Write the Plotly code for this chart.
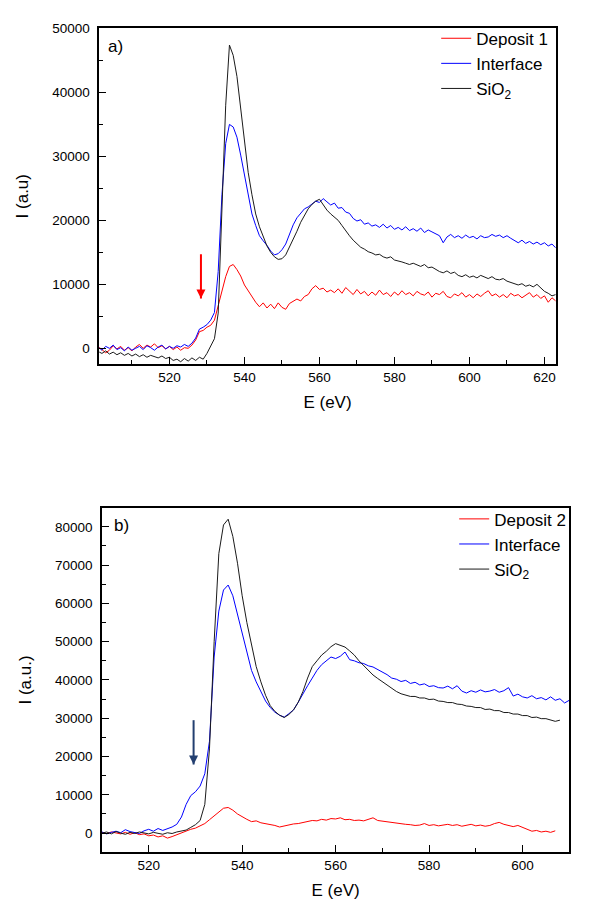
import plotly.graph_objects as go

# ---------------- panel a) data ----------------
e_top = list(range(501, 624))
dep1_top = [
    300, -200, -700, -300, 400, -100, 300, -300, 100, -400,
    200, 600, 0, 500, 200, 700, 100, 400, -100, 300,
    -200, 200, -300, 100, 0, 500, 1300, 2600, 2800, 3300,
    3600, 4400, 6600, 9100, 11200, 12800, 13100, 12300, 11300, 9900,
    9000, 8000, 7200, 6500, 7100, 6300, 6900, 6200, 7100, 6400,
    6100, 7000, 7300, 7700, 7400, 8100, 8400, 9300, 9800, 9200,
    9400, 8800, 9100, 8700, 9300, 8600, 9500, 9000, 8400, 9200,
    8500, 8900, 8200, 8800, 8300, 9100, 8400, 8700, 8100, 8800,
    8300, 9000, 8400, 8700, 8200, 8900, 8500, 8300, 8800, 8000,
    8600, 8400, 8900, 8100, 7900, 8500, 8200, 8700, 8000, 8400,
    7900, 8500, 8100, 8600, 9000, 8200, 8500, 8000, 8400, 7900,
    8600, 8200, 8400, 7900, 8300, 8700, 8000, 8400, 7800, 8200,
    7200, 7900, 7400,
]
interface_top = [
    200, -300, 300, 0, 500, -200, 100, -400, 200, -300,
    0, 300, -200, 400, 100, -300, 200, 500, -100, 300,
    0, 400, 200, 600, 300, 800, 1600, 3000, 3300, 3700,
    4400, 5600, 12000, 24000, 32000, 35000, 34600, 33000, 30200, 27000,
    24000, 21000, 19200, 17600, 16800, 16100, 15200, 14600, 14800, 15400,
    16300, 17800, 19300, 20400, 21100, 21800, 22100, 22600, 23000, 22800,
    23400, 22900, 22400, 22700, 21900, 22000, 21300, 21100, 20300, 19900,
    20100, 19400, 19600, 19100, 19300, 18900, 19400, 18800, 19200, 18600,
    18900, 18500, 19000, 18400, 18700, 18300, 18800, 18100, 18500, 18200,
    17900, 17600, 16500, 17400, 17800, 17300, 17600, 17200, 17700, 17300,
    17500, 17100, 17600, 17300, 17400, 17800, 17500, 17700, 17300, 17600,
    17200, 16800, 16500, 16900, 16400, 16700, 16300, 16600, 16200, 16500,
    16000, 16300, 15700,
]
sio2_top = [
    -500, -800, -400, -900, -600, -1000, -700, -1100, -800, -1200,
    -900, -1300, -1000, -1400, -1100, -1300, -1500, -1200, -1600, -1400,
    -1900, -1700, -2100, -1600, -2000, -1500, -1900, -1400, -1700, -800,
    300, 1500, 5500, 22000, 38000, 47400, 45800, 42500, 37500, 32500,
    27500, 24000, 21000, 19000, 17400, 16000, 15000, 14300, 13900, 14000,
    14600, 15800, 17000, 18300, 19700, 20800, 21800, 22500, 23000, 23300,
    22400, 21600, 21000, 20500, 20000, 19200, 18300, 17600, 16900, 16300,
    15800, 15500, 15100, 14900, 14600, 14700, 14300, 14100, 14300, 13800,
    13700, 13500, 13300, 13100, 13300, 13000, 12800, 13100, 12600, 12700,
    12300, 12000, 11800, 12100, 11700, 11900, 11400, 11200, 11500, 11100,
    11300, 11000, 11400, 11100, 10900, 11200, 10800, 10700, 10900, 10500,
    10300, 10100, 9900, 10100, 9700, 9900, 9600, 10000, 9400, 8900,
    8600, 8200, 8400,
]

# ---------------- panel b) data ----------------
e_bot_interface = list(range(510, 611))
e_bot_sio2 = list(range(510, 609))
e_bot_dep2 = list(range(510, 608))
interface_bot = [
    300, -200, 200, 500, 100, 900, 400, 200, -100, 600,
    1000, 500, 1200, 700, 1100, 1600, 2300, 4200, 7500, 9800,
    10800, 12300, 15500, 24000, 46000, 58000, 63500, 64800, 62000, 57000,
    52000, 47000, 42500, 39500, 37000, 34500, 32800, 31600, 30800, 30300,
    31200, 32200, 34200, 36500, 38500, 40500, 42500, 44000, 45000, 46000,
    45600, 46200, 47300, 45300, 45000, 44500, 44300, 43700, 43400, 42800,
    42200, 41400, 40500, 40200, 39600, 39900, 39100, 39400, 38700, 39000,
    38300, 38500, 38000, 37900, 38400, 37700, 38500, 37100, 36600, 37200,
    36800, 37400, 36900, 37100, 37500, 36800, 37200, 38000, 35800, 36300,
    35600, 35300, 35900, 35100, 35400, 34800, 35600, 34700, 35100, 34000,
    34700,
]
sio2_bot = [
    0, 300, -200, 400, 0, -300, 200, -100, 300, 100,
    -200, 200, 0, -300, 100, -100, 300, 500, 800, 1500,
    2200, 3300, 7500, 22000, 50000, 73000, 80500, 82000, 77500, 70500,
    62000, 55000, 48800, 43500, 39500, 36000, 33300, 31800, 30800, 30200,
    31000, 32200, 34200, 37000, 40500, 43500, 45000, 46500, 47500, 48700,
    49500, 49000, 48600, 47600, 46500, 45000, 43800, 42600, 41300, 40400,
    39500, 38600, 37800, 37000, 36400, 36100, 35700, 35700, 35300, 35300,
    34900, 35000, 34500, 34400, 34100, 34100, 33700, 33600, 33200, 33100,
    32800, 32800, 32300, 32400, 32000, 32000, 31500, 31500, 31100, 31100,
    30700, 30700, 30200, 30300, 29900, 29900, 29500, 29200, 29500,
]
dep2_bot = [
    200, -100, 300, 0, -200, 200, -300, 100, -400, -200,
    -700, -500, -1000, -700, -1300, -900, -400, 200, 500, 1000,
    1300, 1800, 2500, 3500, 4500, 5500, 6500, 6700, 6000, 5000,
    4200, 3600, 3000, 3200, 2700, 2500, 2200, 2000, 1600, 1900,
    2200, 2400, 2500, 2800, 3000, 3300, 3200, 3600, 3400, 3800,
    3700, 4000, 3500, 3600, 3300, 3400, 3200, 3500, 4000, 3300,
    3100, 2900, 2700, 2600, 2400, 2300, 2200, 2000, 2100, 2500,
    2000, 2200, 1900, 2100, 2300, 2000, 2200, 1800, 2000, 2300,
    1900, 2100, 1800, 2000, 2500, 2800, 2300, 2000, 1700, 2000,
    1500, 800, 500, 700, 300, 500, 200, 600,
]

# arrow markers: energy, [tail intensity, tip intensity]
arrow_a_x = 528.4
arrow_a_y = [14700, 7800]
arrow_b_x = 529.6
arrow_b_y = [29500, 17900]

FONT = "Liberation Sans, Arial, sans-serif"
RED, BLUE, BLACK = "#ff0000", "#0000ff", "#1a1a1a"
NAVY = "#233f70"

fig = go.Figure()
fig.add_trace(go.Scatter(x=e_top, y=dep1_top, mode="lines", name="Deposit 1",
                         line=dict(color=RED, width=1), xaxis="x", yaxis="y", legend="legend"))
fig.add_trace(go.Scatter(x=e_top, y=interface_top, mode="lines", name="Interface",
                         line=dict(color=BLUE, width=1), xaxis="x", yaxis="y", legend="legend"))
fig.add_trace(go.Scatter(x=e_top, y=sio2_top, mode="lines", name="SiO<sub>2</sub>",
                         line=dict(color=BLACK, width=1), xaxis="x", yaxis="y", legend="legend"))

fig.add_trace(go.Scatter(x=e_bot_dep2, y=dep2_bot, mode="lines", name="Deposit 2",
                         line=dict(color=RED, width=1), xaxis="x2", yaxis="y2", legend="legend2"))
fig.add_trace(go.Scatter(x=e_bot_interface, y=interface_bot, mode="lines", name="Interface",
                         line=dict(color=BLUE, width=1), xaxis="x2", yaxis="y2", legend="legend2"))
fig.add_trace(go.Scatter(x=e_bot_sio2, y=sio2_bot, mode="lines", name="SiO<sub>2</sub>",
                         line=dict(color=BLACK, width=1), xaxis="x2", yaxis="y2", legend="legend2"))

# arrows (shaft + arrow-down head whose tip sits at the data point)
for ax_x, ax_y, col, xa, ya, lg in [(arrow_a_x, arrow_a_y, RED, "x", "y", "legend"),
                                    (arrow_b_x, arrow_b_y, NAVY, "x2", "y2", "legend2")]:
    fig.add_trace(go.Scatter(x=[ax_x, ax_x], y=ax_y, mode="lines",
                             line=dict(color=col, width=2), showlegend=False,
                             hoverinfo="skip", xaxis=xa, yaxis=ya, legend=lg))
    fig.add_trace(go.Scatter(x=[ax_x], y=[ax_y[1]], mode="markers",
                             marker=dict(symbol="arrow-down", size=9, color=col,
                                         line=dict(width=0)),
                             showlegend=False, hoverinfo="skip", xaxis=xa, yaxis=ya, legend=lg))


def xax(domain, anchor, rng):
    return dict(domain=domain, anchor=anchor, range=rng, dtick=20, tick0=0,
                automargin=False,
                ticks="inside", ticklen=7, tickwidth=1.3, tickcolor="black",
                minor=dict(dtick=10, ticks="inside", ticklen=4, tickwidth=1.3, tickcolor="black"),
                showline=True, linewidth=1.6, linecolor="black", mirror=True,
                showgrid=False, zeroline=False,
                tickfont=dict(family=FONT, size=13.5, color="black"),
                title=dict(text="E (eV)", font=dict(family=FONT, size=17, color="black"), standoff=12))


def yax(domain, anchor, rng, title):
    return dict(domain=domain, anchor=anchor, range=rng, dtick=10000, tick0=0,
                tickformat="d", automargin=False, ticklabelstandoff=5,
                ticks="inside", ticklen=7, tickwidth=1.3, tickcolor="black",
                minor=dict(dtick=5000, ticks="inside", ticklen=4, tickwidth=1.3, tickcolor="black"),
                showline=True, linewidth=1.6, linecolor="black", mirror=True,
                showgrid=False, zeroline=False,
                tickfont=dict(family=FONT, size=13.5, color="black"),
                title=dict(text=title, font=dict(family=FONT, size=17, color="black"), standoff=19))


legend_style = dict(bgcolor="rgba(0,0,0,0)", borderwidth=0, xanchor="left", yanchor="top",
                    font=dict(family=FONT, size=17, color="black"), tracegroupgap=0,
                    itemwidth=30)

fig.update_layout(
    width=600, height=912,
    margin=dict(l=0, r=0, t=0, b=0, autoexpand=False),
    paper_bgcolor="white", plot_bgcolor="white",
    font=dict(family=FONT, color="black"),
    xaxis=xax([0.1655, 0.9262], "y", [501.3, 623]),
    yaxis=yax([0.6009, 0.9688], "x", [-2450, 50000], "I (a.u)"),
    xaxis2=xax([0.17, 0.9488], "y2", [510, 610]),
    yaxis2=yax([0.0655, 0.4433], "x2", [-5000, 85000], "I (a.u.)"),
    legend=dict(x=0.727, y=0.9773, **legend_style),
    legend2=dict(x=0.757, y=0.4503, **legend_style),
    showlegend=True,
)

annos = [
    dict(text="a)", xref="paper", yref="paper", x=106 / 600, y=1 - 46.7 / 912,
         xanchor="left", yanchor="middle", showarrow=False,
         font=dict(family=FONT, size=17, color="black")),
    dict(text="b)", xref="paper", yref="paper", x=111.5 / 600, y=1 - 525 / 912,
         xanchor="left", yanchor="middle", showarrow=False,
         font=dict(family=FONT, size=17, color="black")),
]
fig.update_layout(annotations=annos)

fig.write_html("out.html", config={"displayModeBar": False},
               post_script="document.body.style.margin='0';document.body.style.overflow='hidden';")
